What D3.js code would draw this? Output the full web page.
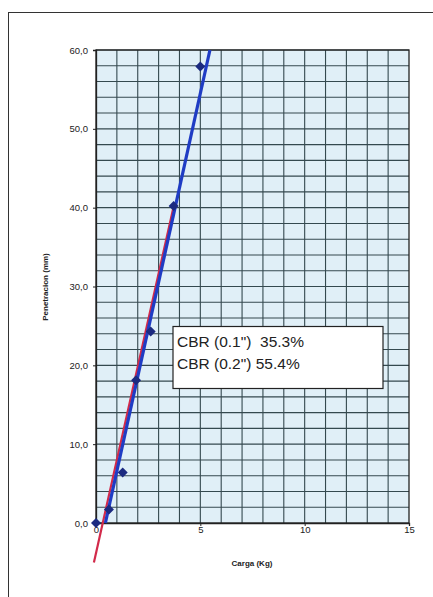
<!DOCTYPE html>
<html><head><meta charset="utf-8">
<script src="https://cdn.jsdelivr.net/npm/d3@7"></script>
<style>body{margin:0;background:#fff}svg{display:block}</style>
</head><body>
<script>
const cargaKg = [0, 0.62, 1.28, 1.92, 2.62, 3.72, 5.0];
const penetracionMm = [0, 1.7, 6.4, 18.1, 24.3, 40.2, 57.9];
const blueLineX = [0.45, 5.46];
const blueLineY = [0, 60];
const redLineX = [-0.1, 3.75];
const redLineY = [-5, 40.5];
const xTicks = [0, 5, 10, 15];
const yTicks = [0, 10, 20, 30, 40, 50, 60];
const cbrLines = ['CBR (0.1")  35.3%', 'CBR (0.2") 55.4%'];

const W = 433, H = 597;
const svg = d3.select("body").append("svg").attr("width", W).attr("height", H);
svg.append("rect").attr("x", 8.5).attr("y", 12.5).attr("width", 430).attr("height", 600)
  .attr("fill", "#fff").attr("stroke", "#333").attr("stroke-width", 1);

const x = d3.scaleLinear().domain([0, 15]).range([96, 409]);
const y = d3.scaleLinear().domain([0, 60]).range([523, 50]);

svg.append("rect").attr("x", x(0)).attr("y", y(60)).attr("width", x(15) - x(0)).attr("height", y(0) - y(60))
  .attr("fill", "#e0eff7");

const gridC = "#34494f";
svg.append("g").selectAll("line").data(d3.range(1, 15)).join("line")
  .attr("x1", d => x(d)).attr("x2", d => x(d)).attr("y1", y(0)).attr("y2", y(60))
  .attr("stroke", gridC).attr("stroke-width", 1.1);
svg.append("g").selectAll("line").data(d3.range(2, 61, 2)).join("line")
  .attr("y1", d => y(d)).attr("y2", d => y(d)).attr("x1", x(0)).attr("x2", x(15))
  .attr("stroke", gridC).attr("stroke-width", 1.1);

const yAxis = d3.axisLeft(y).tickValues(yTicks).tickSize(3).tickFormat(d => d3.format(".1f")(d).replace(".", ","));
const xAxis = d3.axisBottom(x).tickValues(xTicks).tickSize(3).tickFormat(d3.format("d"));
const gy = svg.append("g").attr("transform", `translate(${x(0)},0)`).call(yAxis);
const gx = svg.append("g").attr("transform", `translate(0,${y(0)})`).call(xAxis);
[gy, gx].forEach(g => {
  g.select(".domain").attr("stroke", "#222").attr("stroke-width", 1.3);
  g.selectAll(".tick line").attr("stroke", "#222");
  g.selectAll("text").attr("font-family", "Liberation Sans, Arial, sans-serif").attr("font-size", 9.5).attr("fill", "#222");
});
gy.selectAll("text").attr("dx", -2);
gx.selectAll("text").attr("dy", 4);

svg.append("rect").attr("x", x(0)).attr("y", y(60)).attr("width", x(15) - x(0)).attr("height", y(0) - y(60))
  .attr("fill", "none").attr("stroke", "#222").attr("stroke-width", 1.3);

const line = d3.line().x(d => x(d[0])).y(d => y(d[1]));
svg.append("path").datum(redLineX.map((v, i) => [v, redLineY[i]])).attr("d", line)
  .attr("stroke", "#d22a4a").attr("stroke-width", 2.2).attr("fill", "none");
svg.append("path").datum(blueLineX.map((v, i) => [v, blueLineY[i]])).attr("d", line)
  .attr("stroke", "#1f3cc4").attr("stroke-width", 3.2).attr("fill", "none");

const sym = d3.symbol().type(d3.symbolSquare).size(50);
svg.append("g").selectAll("path").data(cargaKg.map((v, i) => [v, penetracionMm[i]])).join("path")
  .attr("d", sym).attr("transform", d => `translate(${x(d[0])},${y(d[1])}) rotate(45)`)
  .attr("fill", "#1b2a80");

svg.append("text").attr("x", 252).attr("y", 566).attr("text-anchor", "middle")
  .attr("font-family", "Liberation Sans, Arial, sans-serif").attr("font-size", 8).attr("font-weight", "bold")
  .attr("fill", "#222").text("Carga (Kg)");
svg.append("text").attr("transform", "translate(48,287) rotate(-90)").attr("text-anchor", "middle")
  .attr("font-family", "Liberation Sans, Arial, sans-serif").attr("font-size", 8).attr("font-weight", "bold")
  .attr("fill", "#222").text("Penetracion (mm)");

svg.append("rect").attr("x", 173).attr("y", 326.5).attr("width", 210).attr("height", 62)
  .attr("fill", "#fff").attr("stroke", "#222").attr("stroke-width", 1.2);
svg.append("g").selectAll("text").data(cbrLines).join("text")
  .attr("x", 177).attr("y", (d, i) => 347 + i * 22)
  .attr("font-family", "Liberation Sans, Arial, sans-serif").attr("font-size", 15.5)
  .attr("fill", "#222").attr("xml:space", "preserve").style("white-space", "pre").text(d => d);
</script>
</body></html>
